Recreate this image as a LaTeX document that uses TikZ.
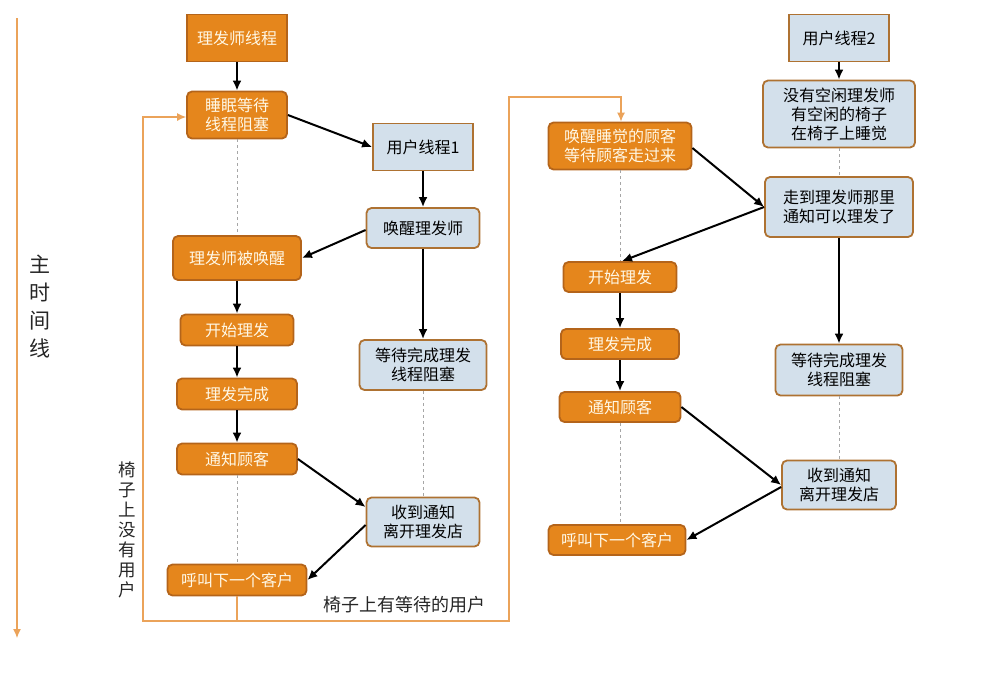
\documentclass[tikz,border=0pt]{standalone}
\usepackage{fontspec}
\setmainfont{Noto Sans CJK SC}
\usetikzlibrary{arrows.meta}
\definecolor{orfill}{HTML}{E5861C}
\definecolor{orborder}{HTML}{B4641A}
\definecolor{blfill}{HTML}{D3E0EB}
\definecolor{blborder}{HTML}{AE7232}
\definecolor{orline}{HTML}{EBA35A}
\definecolor{ortext}{HTML}{FFF8E6}
\tikzset{
  box/.style={draw, line width=1.8pt, inner sep=0pt, align=center,
    font=\fontsize{16}{19}\selectfont, rounded corners=5pt},
  obox/.style={box, fill=orfill, draw=orborder, text=ortext},
  bbox/.style={box, fill=blfill, draw=blborder, text=black},
  sharp/.style={rounded corners=0pt},
  arr/.style={line width=2pt, -{Latex[length=10pt,width=9pt]}, black},
  dline/.style={gray!70, dashed, line width=0.6pt},
  oline/.style={orline, line width=1.2pt},
  oarr/.style={oline, -{Latex[length=9pt,width=8pt]}},
  lab/.style={font=\fontsize{18}{20}\selectfont, text=black!85, inner sep=0pt},
}
\begin{document}
\begin{tikzpicture}[x=1pt,y=-1pt]
\useasboundingbox (0,0) rectangle (1004,689);
% left column nodes
\node[obox,sharp,minimum width=100pt,minimum height=47pt] (n1) at (237,38) {理发师线程};
\node[obox,minimum width=100pt,minimum height=47pt] (n2) at (237,115) {睡眠等待\\线程阻塞};
\node[bbox,sharp,minimum width=100pt,minimum height=47pt] (n3) at (423,147) {用户线程1};
\node[bbox,minimum width=113pt,minimum height=40pt] (n4) at (423,228) {唤醒理发师};
\node[obox,minimum width=128pt,minimum height=44pt] (n5) at (237,258) {理发师被唤醒};
\node[obox,minimum width=113pt,minimum height=31pt] (n6) at (237,330) {开始理发};
\node[obox,minimum width=120pt,minimum height=31pt] (n7) at (237,394) {理发完成};
\node[obox,minimum width=120pt,minimum height=31pt] (n8) at (237,459) {通知顾客};
\node[obox,minimum width=139pt,minimum height=31pt] (n9) at (237,580) {呼叫下一个客户};
\node[bbox,minimum width=127pt,minimum height=50pt] (n10) at (423,365) {等待完成理发\\线程阻塞};
\node[bbox,minimum width=113pt,minimum height=49pt] (n11) at (423,522) {收到通知\\离开理发店};
% right column nodes
\node[bbox,sharp,minimum width=100pt,minimum height=47pt] (n12) at (839,38) {用户线程2};
\node[bbox,minimum width=152pt,minimum height=67pt] (n13) at (839,114) {没有空闲理发师\\有空闲的椅子\\在椅子上睡觉};
\node[obox,minimum width=143pt,minimum height=47pt] (n14) at (620,146) {唤醒睡觉的顾客\\等待顾客走过来};
\node[bbox,minimum width=148pt,minimum height=60pt] (n15) at (839,207) {走到理发师那里\\通知可以理发了};
\node[obox,minimum width=113pt,minimum height=30pt] (n16) at (620,277) {开始理发};
\node[obox,minimum width=118pt,minimum height=30pt] (n17) at (620,344) {理发完成};
\node[obox,minimum width=121pt,minimum height=30pt] (n18) at (620,407) {通知顾客};
\node[obox,minimum width=137pt,minimum height=30pt] (n19) at (617,540) {呼叫下一个客户};
\node[bbox,minimum width=127pt,minimum height=51pt] (n20) at (839,370) {等待完成理发\\线程阻塞};
\node[bbox,minimum width=114pt,minimum height=49pt] (n21) at (839,485) {收到通知\\离开理发店};
% dashed timelines
\draw[dline] (n2.south) -- (n5.north);
\draw[dline] (n8.south) -- (n9.north);
\draw[dline] (n10.south) -- (n11.north);
\draw[dline] (n13.south) -- (n15.north);
\draw[dline] (n14.south) -- (n16.north);
\draw[dline] (n18.south) -- (n18.south |- n19.north);
\draw[dline] (n20.south) -- (n21.north);
% arrows left
\draw[arr] (n1) -- (n2);
\draw[arr] (n2.east) -- (n3.west);
\draw[arr] ([yshift=-2pt]n4.west) -- (n5.east);
\draw[arr] (n3) -- (n4);
\draw[arr] (n5) -- (n6);
\draw[arr] (n6) -- (n7);
\draw[arr] (n7) -- (n8);
\draw[arr] (n4) -- (n10);
\draw[arr] (n8.east) -- ([yshift=15pt]n11.west);
\draw[arr] ([yshift=-3pt]n11.west) -- (n9.east);
% arrows right
\draw[arr] (n12) -- (n13);
\draw[arr] ([yshift=-2pt]n14.east) -- (n15.west);
\draw[arr] (n15.west) -- ([xshift=2pt]n16.north);
\draw[arr] (n16) -- (n17);
\draw[arr] (n17) -- (n18);
\draw[arr] (n15) -- (n20);
\draw[arr] (n18.east) -- (n21.west);
\draw[arr] ([yshift=-2pt]n21.west) -- (n19.east);
% orange loop lines
\coordinate (lb) at (237,621);
\coordinate (ll) at (143,621);
\coordinate (rb) at (509,621);
\coordinate (rt) at (509,97);
\draw[oline] (n9.south) -- (lb);
\draw[oarr] (lb) -- (ll) |- ([yshift=-2pt]n2.west);
\draw[oarr] (lb) -- (rb) -- (rt) -| ([xshift=1pt]n14.north);
% main timeline
\coordinate (t1) at (17,18);
\coordinate (t2) at (17,638);
\draw[oarr] (t1) -- (t2);
% labels
\node[lab, font=\fontsize{21}{28}\selectfont, align=center] (mt) at (40,307) {主\\时\\间\\线};
\node[lab, font=\fontsize{17.5}{20}\selectfont, align=center] (ly) at (127,530) {椅\\子\\上\\没\\有\\用\\户};
\node[lab, anchor=east] (lw) at (486,605) {椅子上有等待的用户};
\end{tikzpicture}
\end{document}
